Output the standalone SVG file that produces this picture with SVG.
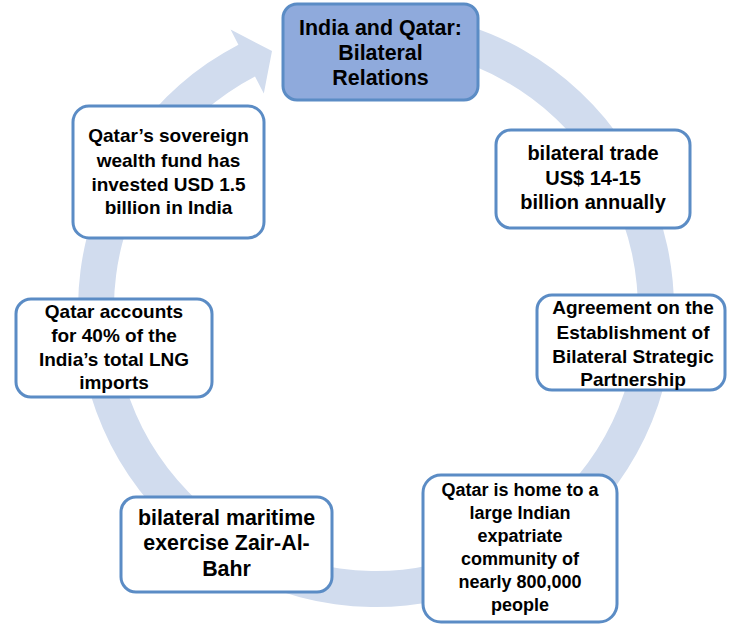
<svg xmlns="http://www.w3.org/2000/svg" width="740" height="635" viewBox="0 0 740 635">
<style>
.box{fill:#FFFFFF;stroke:#5B8CC5;stroke-width:3}
.top{fill:#8FAADC;stroke:#5B8CC5;stroke-width:3}
text{font-family:"Liberation Sans",Arial,sans-serif;font-weight:bold;font-size:18px;fill:#000;text-anchor:middle}
.f21{font-size:21.4px}
.f20{font-size:20px}
.f19{font-size:19px}
</style>
<rect width="740" height="635" fill="#FFFFFF"/>
<g id="connectors">
<path d="M 386.4 11.2 A 298 298 0 1 1 238.4 44.7 L 230.6 29.6 L 272 51 L 263.8 93.5 L 255 76.6 A 262 262 0 1 0 385.1 47.2 Z" fill="#D1DCEE"/>
</g>
<g id="node-center">
<rect class="top" x="283" y="4" width="195" height="96" rx="14"/>
<text class="f21" x="380.5" y="35">India and Qatar:</text>
<text class="f21" x="380.5" y="60">Bilateral</text>
<text class="f21" x="380.5" y="85">Relations</text>
</g>
<g id="node-trade">
<rect class="box" x="496" y="130" width="194" height="98" rx="15"/>
<text class="f20" x="593" y="160">bilateral trade</text>
<text class="f20" x="593" y="185">US$ 14-15</text>
<text class="f20" x="593" y="209">billion annually</text>
</g>
<g id="node-agreement">
<rect class="box" x="537" y="295" width="188" height="95" rx="15"/>
<text class="f19" x="633" y="314">Agreement on the</text>
<text class="f19" x="633" y="339">Establishment of</text>
<text class="f19" x="633" y="363">Bilateral Strategic</text>
<text class="f19" x="633" y="386">Partnership</text>
</g>
<g id="node-expatriate">
<rect class="box" x="423" y="475" width="194" height="147" rx="18"/>
<text x="520" y="496">Qatar is home to a</text>
<text x="520" y="519">large Indian</text>
<text x="520" y="542">expatriate</text>
<text x="520" y="565">community of</text>
<text x="520" y="588">nearly 800,000</text>
<text x="520" y="611">people</text>
</g>
<g id="node-maritime">
<rect class="box" x="121" y="497" width="211" height="95" rx="15"/>
<text class="f21" x="226.5" y="525">bilateral maritime</text>
<text class="f21" x="226.5" y="550">exercise Zair-Al-</text>
<text class="f21" x="226.5" y="576">Bahr</text>
</g>
<g id="node-lng">
<rect class="box" x="16" y="299" width="196" height="98" rx="15"/>
<text class="f19" x="114" y="318">Qatar accounts</text>
<text class="f19" x="114" y="342">for 40% of the</text>
<text class="f19" x="114" y="366">India’s total LNG</text>
<text class="f19" x="114" y="389">imports</text>
</g>
<g id="node-fund">
<rect class="box" x="73" y="106" width="191" height="132" rx="16"/>
<text class="f19" x="168.5" y="142">Qatar’s sovereign</text>
<text class="f19" x="168.5" y="167">wealth fund has</text>
<text class="f19" x="168.5" y="191">invested USD 1.5</text>
<text class="f19" x="168.5" y="214">billion in India</text>
</g>
</svg>
